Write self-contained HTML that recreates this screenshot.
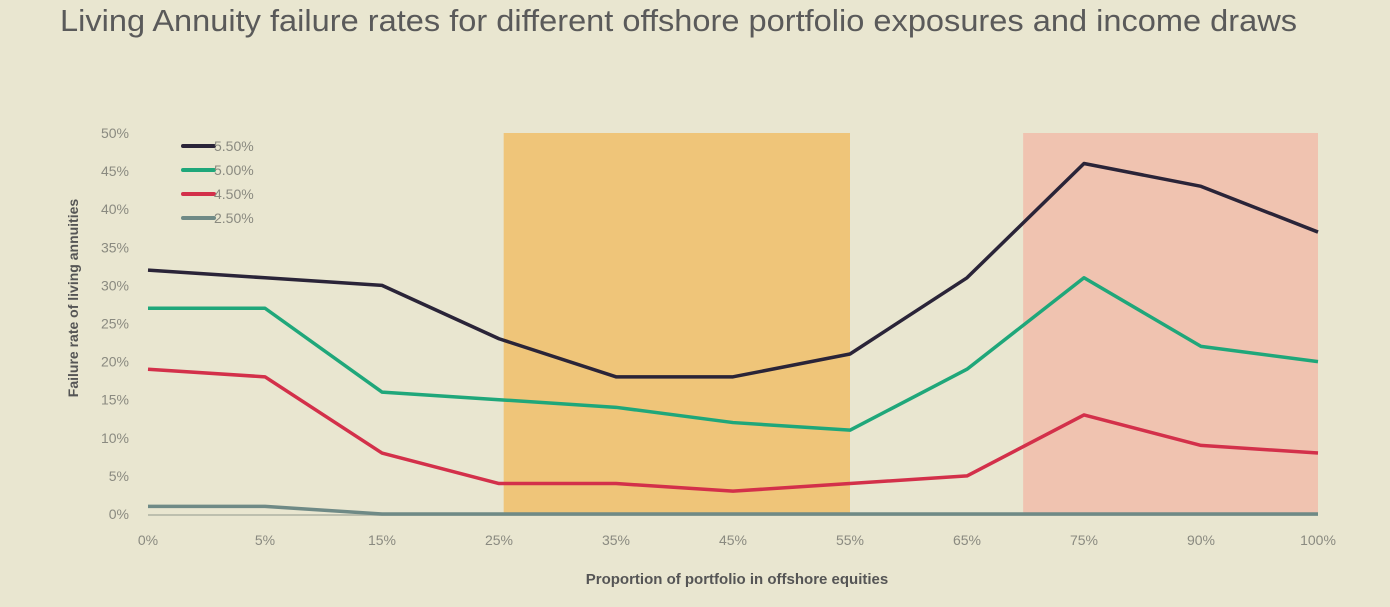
<!DOCTYPE html>
<html><head><meta charset="utf-8"><style>
body{margin:0;background:#e9e6d0;}
svg{display:block;font-family:"Liberation Sans",sans-serif;}
</style></head><body>
<svg id="chart" width="1390" height="607" viewBox="0 0 1390 607">
<rect width="1390" height="607" fill="#e9e6d0"/>
<text x="60" y="31" font-size="31" fill="#5a5a5a" textLength="1237" lengthAdjust="spacingAndGlyphs">Living Annuity failure rates for different offshore portfolio exposures and income draws</text>
<g id="plot"></g>
<text transform="translate(78,298) rotate(-90)" text-anchor="middle" font-size="14" font-weight="bold" fill="#555">Failure rate of living annuities</text>
<text x="737" y="584" text-anchor="middle" font-size="15" font-weight="bold" fill="#555">Proportion of portfolio in offshore equities</text>
</svg>
<script>
const categories=["0%","5%","15%","25%","35%","45%","55%","65%","75%","90%","100%"];
const s550=[32,31,30,23,18,18,21,31,46,43,37];
const s500=[27,27,16,15,14,12,11,19,31,22,20];
const s450=[19,18,8,4,4,3,4,5,13,9,8];
const s250=[1,1,0,0,0,0,0,0,0,0,0];
const yTicks=[0,5,10,15,20,25,30,35,40,45,50];
const seriesNames=["5.50%","5.00%","4.50%","2.50%"];
const bands=[[3.04,6],[7.48,10]];
const NS="http://www.w3.org/2000/svg";
const x0=148,x1=1318,y0=514,y1=133;
const xs=i=>x0+(x1-x0)*i/(categories.length-1);
const ys=v=>y0-(y0-y1)*v/50;
const g=document.getElementById('plot');
function el(t,a){const e=document.createElementNS(NS,t);for(const k in a)e.setAttribute(k,a[k]);g.appendChild(e);return e;}
const bandColors=["#efc579","#f0c3b0"];
bands.forEach((b,i)=>{const r=el('rect',{x:xs(b[0]),y:ys(50),width:xs(b[1])-xs(b[0]),height:ys(0)-ys(50),fill:bandColors[i]});

});
yTicks.forEach(v=>{const t=el('text',{x:129,y:ys(v)+5,'text-anchor':'end','font-size':14,fill:'#8a8a80'});t.textContent=v+'%';

});
categories.forEach((c,i)=>{const t=el('text',{x:xs(i),y:545,'text-anchor':'middle','font-size':14,fill:'#8a8a80'});t.textContent=c;

});
const bl=el('line',{x1:x0,x2:x1,y1:y0+1,y2:y0+1,stroke:'#bdbfae','stroke-width':2});


const data=[s550,s500,s450,s250];
const colors=["#2a2438","#1fa77a","#d3304a","#6f8a86"];
[3,2,1,0].forEach(k=>{const p=el('polyline',{points:data[k].map((v,i)=>xs(i)+','+ys(v)).join(' '),fill:'none',stroke:colors[k],'stroke-width':3.5,'stroke-linejoin':'round'});

});
seriesNames.forEach((n,k)=>{const y=146+k*24;
const l=el('line',{x1:183,x2:214,y1:y,y2:y,stroke:colors[k],'stroke-width':4,'stroke-linecap':'round'});


const t=el('text',{x:214,y:y+5,'font-size':14,fill:'#8a8a80'});t.textContent=n;

});
</script>
</body></html>
